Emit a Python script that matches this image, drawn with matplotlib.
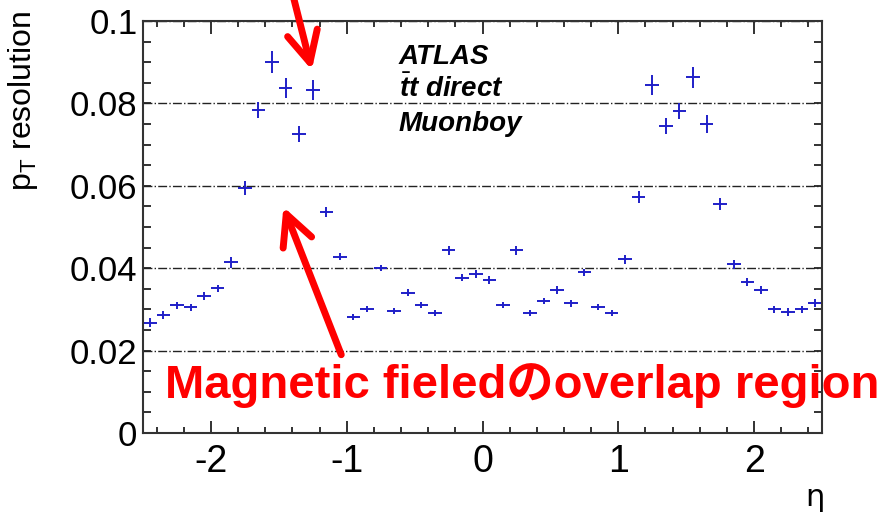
import matplotlib
matplotlib.use('Agg')
import matplotlib.pyplot as plt
from matplotlib.ticker import MultipleLocator

plt.rcParams['font.family'] = ['Liberation Sans', 'Noto Sans CJK JP']
plt.rcParams['mathtext.fontset'] = 'custom'
plt.rcParams['mathtext.rm'] = 'Liberation Sans'
plt.rcParams['mathtext.it'] = 'Liberation Sans:italic:bold'
plt.rcParams['axes.unicode_minus'] = False

# bin centres in eta (bins of 0.1 from -2.5 to 2.5)
eta = [-2.45, -2.35, -2.25, -2.15, -2.05, -1.95, -1.85, -1.75, -1.65, -1.55,
       -1.45, -1.35, -1.25, -1.15, -1.05, -0.95, -0.85, -0.75, -0.65, -0.55,
       -0.45, -0.35, -0.25, -0.15, -0.05, 0.05, 0.15, 0.25, 0.35, 0.45,
       0.55, 0.65, 0.75, 0.85, 0.95, 1.05, 1.15, 1.25, 1.35, 1.45,
       1.55, 1.65, 1.75, 1.85, 1.95, 2.05, 2.15, 2.25, 2.35, 2.45]
bin_half = 0.05

res = [0.0268, 0.0286, 0.0310, 0.0305, 0.0333, 0.0351, 0.0414, 0.0595, 0.0784, 0.0901,
       0.0837, 0.0726, 0.0833, 0.0537, 0.0428, 0.0281, 0.0301, 0.0400, 0.0296, 0.0341,
       0.0311, 0.0291, 0.0443, 0.0377, 0.0386, 0.0371, 0.0310, 0.0443, 0.0291, 0.0320,
       0.0347, 0.0315, 0.0390, 0.0305, 0.0291, 0.0422, 0.0573, 0.0845, 0.0745, 0.0782,
       0.0863, 0.0750, 0.0556, 0.0410, 0.0367, 0.0347, 0.0300, 0.0294, 0.0300, 0.0315]

res_err = [0.0011, 0.0009, 0.0009, 0.0008, 0.0009, 0.0009, 0.0013, 0.0017, 0.0020, 0.0026,
           0.0024, 0.0019, 0.0024, 0.0012, 0.0009, 0.0007, 0.0007, 0.0008, 0.0007, 0.0009,
           0.0008, 0.0007, 0.0010, 0.0008, 0.0009, 0.0009, 0.0007, 0.0010, 0.0007, 0.0008,
           0.0009, 0.0008, 0.0009, 0.0007, 0.0007, 0.0011, 0.0014, 0.0024, 0.0019, 0.0020,
           0.0025, 0.0021, 0.0015, 0.0011, 0.0009, 0.0009, 0.0009, 0.0009, 0.0009, 0.0010]

fig = plt.figure(figsize=(8.9, 5.14), dpi=100)
ax = fig.add_axes([143 / 890, 1 - 433 / 514, 679 / 890, 412 / 514])

ax.errorbar(eta, res, xerr=bin_half, yerr=res_err, fmt='none',
            ecolor='#1f1fc8', elinewidth=1.4, capsize=0)

ax.set_xlim(-2.5, 2.5)
ax.set_ylim(0, 0.1)
ax.xaxis.set_major_locator(MultipleLocator(1))
ax.xaxis.set_minor_locator(MultipleLocator(0.2))
ax.yaxis.set_minor_locator(MultipleLocator(0.005))
ax.set_yticks([0, 0.02, 0.04, 0.06, 0.08, 0.1])
ax.set_yticklabels(['0', '0.02', '0.04', '0.06', '0.08', '0.1'])
ax.tick_params(axis='both', which='both', direction='in', top=True, right=True,
               width=1.3, colors='#222222')
ax.tick_params(axis='x', which='major', length=9, labelsize=27, pad=8)
ax.tick_params(axis='x', which='minor', length=4.5)
ax.tick_params(axis='y', which='both', length=6, labelsize=25, pad=4)
for lab in ax.get_xticklabels() + ax.get_yticklabels():
    lab.set_color('black')
for s in ax.spines.values():
    s.set_linewidth(1.5)
    s.set_color('#333333')

ax.yaxis.grid(True, which='major', linestyle='-.', color='#222222', linewidth=1.0)
ax.set_axisbelow(True)

ax.set_ylabel(r'p$_\mathrm{T}$ resolution', fontsize=23, loc='top')
ax.yaxis.set_label_coords(-0.152, 1.025)
fig.text(815 / 890, 1 - 497 / 514, 'η', fontsize=22, family='DejaVu Sans',
         ha='center', va='center')

# ATLAS label
fig.text(399 / 890, 1 - 64 / 514, 'ATLAS', fontsize=20, fontweight='bold',
         style='italic', va='baseline')
fig.text(399 / 890, 1 - 97 / 514, r'$\bar{t}t$ direct', fontsize=20,
         fontweight='bold', style='italic', va='baseline')
fig.text(399 / 890, 1 - 131 / 514, 'Muonboy', fontsize=20, fontweight='bold',
         style='italic', va='baseline')

# red annotation
fig.text(165 / 890, 1 - 398 / 514, 'Magnetic fieledのoverlap region',
         fontsize=34, fontweight='bold', color='red', va='baseline')

arrow_props = dict(arrowstyle='->,head_length=1.1,head_width=0.55', lw=5,
                   color='red', mutation_scale=20, shrinkA=0, shrinkB=0)
ax.annotate('', xy=(-1.257, 0.0881), xytext=(-1.39, 0.1055),
            arrowprops=arrow_props, annotation_clip=False)
ax.annotate('', xy=(-1.466, 0.0549), xytext=(-1.040, 0.0190),
            arrowprops=arrow_props, annotation_clip=False)

fig.savefig('out.png', dpi=100)
